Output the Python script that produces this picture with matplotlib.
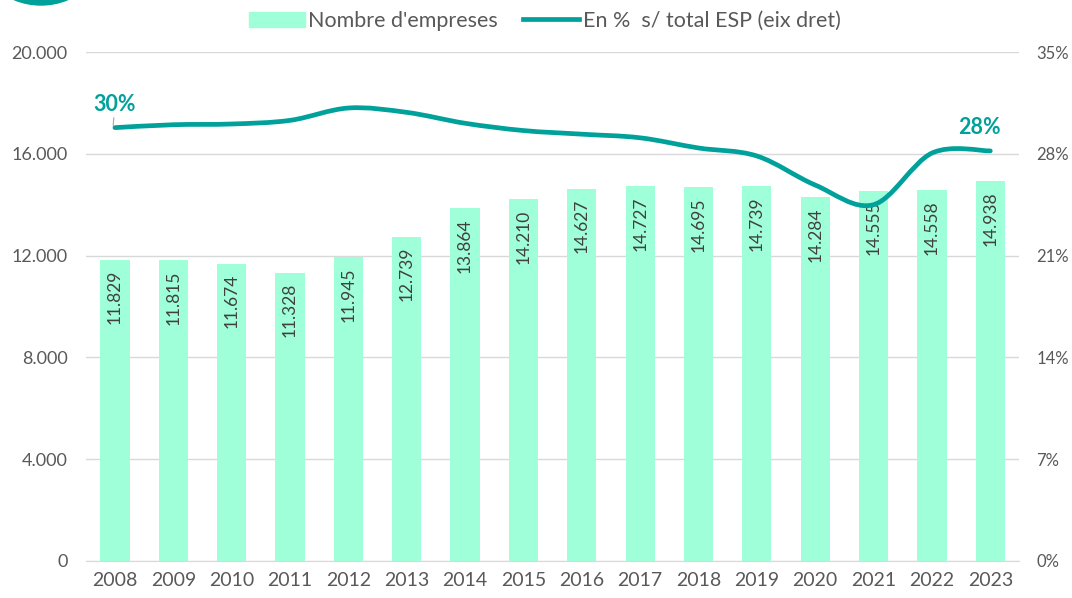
import numpy as np
import matplotlib
matplotlib.use("Agg")
from matplotlib import pyplot as plt
from matplotlib import patches as patches
from matplotlib.path import Path
from matplotlib.lines import Line2D

years = ["2008", "2009", "2010", "2011", "2012", "2013", "2014", "2015",
         "2016", "2017", "2018", "2019", "2020", "2021", "2022", "2023"]
empreses = [11829, 11815, 11674, 11328, 11945, 12739, 13864, 14210,
            14627, 14727, 14695, 14739, 14284, 14555, 14558, 14938]
pct_esp = [29.8, 30.0, 30.05, 30.3, 31.15, 30.85, 30.1, 29.6,
           29.35, 29.1, 28.4, 27.85, 25.85, 24.5, 28.05, 28.2]

BAR = "#9fffd8"
TEAL = "#00a19a"
GREY = "#595959"
FONT = "Lato"

plt.rcParams["font.family"] = [FONT, "DejaVu Sans"]


def fmt_thousands(v):
    return f"{v:,.0f}".replace(",", ".")


def smooth_path(xs, ys):
    # Catmull-Rom to cubic Bezier, like Excel's smoothed line
    verts = [(xs[0], ys[0])]
    codes = [Path.MOVETO]
    n = len(xs)
    for i in range(n - 1):
        x0, y0 = (xs[i - 1], ys[i - 1]) if i > 0 else (xs[i], ys[i])
        x1, y1 = xs[i], ys[i]
        x2, y2 = xs[i + 1], ys[i + 1]
        x3, y3 = (xs[i + 2], ys[i + 2]) if i + 2 < n else (x2, y2)
        c1 = (x1 + (x2 - x0) / 6, y1 + (y2 - y0) / 6)
        c2 = (x2 - (x3 - x1) / 6, y2 - (y3 - y1) / 6)
        verts += [c1, c2, (x2, y2)]
        codes += [Path.CURVE4] * 3
    return Path(verts, codes)


fig = plt.figure(figsize=(10.72, 5.98), dpi=100)
ax = fig.add_axes([0.080, 0.062, 0.871, 0.851])
ax2 = ax.twinx()

x = np.arange(len(years))
ax.bar(x, empreses, width=0.5, color=BAR, zorder=2)
for xi, v in zip(x, empreses):
    ax.text(xi, v - 400, fmt_thousands(v), rotation=90, ha="center", va="top",
            fontsize=12.5, color="#404040", zorder=3)

ax.set_xlim(-0.5, len(years) - 0.5)
ax.set_ylim(0, 20000)
ax.set_yticks(range(0, 20001, 4000))
ax.set_yticklabels([fmt_thousands(v) for v in range(0, 20001, 4000)])
ax.set_xticks(x)
ax.set_xticklabels(years)
ax.grid(axis="y", color="#d9d9d9", linewidth=1, zorder=0)
ax.set_axisbelow(True)
for s in ax.spines.values():
    s.set_visible(False)
for s in ax2.spines.values():
    s.set_visible(False)
ax.spines["bottom"].set_visible(True)
ax.spines["bottom"].set_color("#d9d9d9")
ax.tick_params(axis="both", length=0, labelsize=13, colors=GREY)
ax.tick_params(axis="x", pad=8, labelsize=14)
ax.tick_params(axis="y", pad=13)

ax2.set_ylim(0, 35)
ax2.set_yticks(range(0, 36, 7))
ax2.set_yticklabels([f"{v}%" for v in range(0, 36, 7)])
ax2.tick_params(axis="y", length=0, labelsize=12, colors=GREY, pad=12)
ax2.add_patch(patches.PathPatch(smooth_path(list(x), pct_esp), fill=False,
                                edgecolor=TEAL, linewidth=3.4, capstyle="round", zorder=4))

ax2.annotate("30%", xy=(x[0] - 0.03, pct_esp[0] + 0.15), xytext=(x[0], pct_esp[0] + 1.6),
             ha="center", va="center", fontsize=15.5, fontweight="bold", color=TEAL,
             arrowprops=dict(arrowstyle="-", color="#a6a6a6", linewidth=0.8,
                             shrinkA=9, shrinkB=0))
ax2.text(x[-1] - 0.18, pct_esp[-1] + 1.6, "28%", ha="center", va="center",
         fontsize=15.5, fontweight="bold", color=TEAL)

handles = [patches.Patch(color=BAR),
           Line2D([0], [0], color=TEAL, linewidth=3.4)]
fig.legend(handles, ["Nombre d'empreses", "En %  s/ total ESP (eix dret)"],
           loc="center", bbox_to_anchor=(0.508, 0.965), ncol=2, frameon=False,
           fontsize=15.5, labelcolor=GREY, handlelength=2.6, handletextpad=0.15,
           columnspacing=1.2)

fig.add_artist(patches.Ellipse((41 / 1072, 1 + 65 / 598), 140 / 1072, 140 / 598,
                               transform=fig.transFigure, color=TEAL, clip_on=False))

fig.savefig("out.png", dpi=100)
